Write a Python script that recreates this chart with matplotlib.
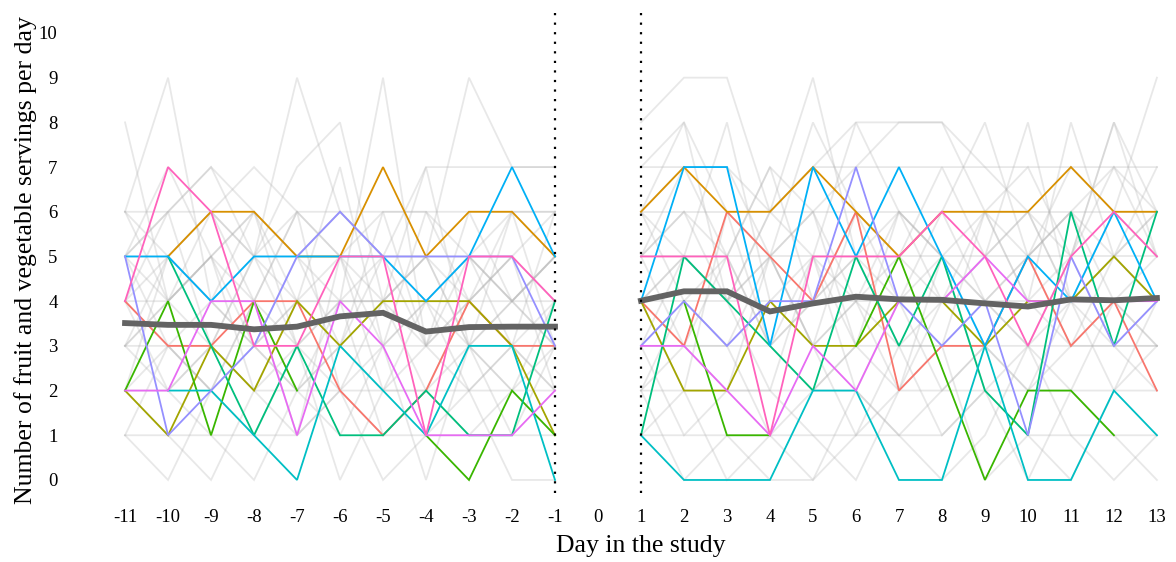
import numpy as np
import matplotlib
matplotlib.use('Agg')
import matplotlib.pyplot as plt

nan = float('nan')
# nan = gap in the line, None = day not shown but the line runs through it

pre_days = list(range(-11, 0))
post_days = list(range(1, 14))
xticks = list(range(-11, 14))
yticks = list(range(0, 11))

# highlighted participants (ggplot hue order)
hl_colors = ['#F8766D', '#D89000', '#A3A500', '#39B600', '#00BF7D',
             '#00BFC4', '#00B0F6', '#9590FF', '#E76BF3', '#FF62BC']
hl_pre = [
    [4, 3, 3, 4, 4, 2, 1, 2, 4, 3, 3],
    [nan, 5, 6, 6, 5, 5, 7, 5, 6, 6, 5],
    [2, 1, 3, 2, 4, 3, 4, 4, 4, 3, 1],
    [2, 4, 1, 4, 2, nan, nan, 1, 0, 2, 1],
    [nan, 5, 3, 1, 3, 1, 1, 2, 1, 1, 4],
    [nan, 2, 2, 1, 0, 3, 2, 1, 3, 3, 0],
    [5, 5, 4, 5, 5, 5, 5, 4, 5, 7, 5],
    [5, 1, 2, 3, 5, 6, 5, 5, 5, 5, 3],
    [2, 2, 4, 4, 1, 4, 3, 1, 1, 1, 2],
    [4, 7, 6, 3, 3, 5, 5, 1, 5, 5, 4],
]
hl_post = [
    [4, 3, 6, 5, 4, 6, 2, 3, 3, 5, 3, 4, 2],
    [6, 7, 6, 6, 7, 6, 5, 6, 6, 6, 7, 6, 6],
    [4, 2, 2, 4, 3, 3, 4, 4, 3, 4, 4, 5, 4],
    [nan, 4, 1, 1, nan, 3, 5, None, 0, 2, 2, 1, nan],
    [1, 5, 4, 3, 2, 5, 3, 5, 2, 1, 6, 3, 6],
    [1, 0, 0, 0, 2, 2, 0, 0, 3, 0, 0, 2, 1],
    [4, 7, 7, 3, 7, 5, 7, 5, 3, 5, 4, 6, 4],
    [3, 4, 3, 4, 4, 7, 4, 3, 4, 1, 5, 3, 4],
    [3, 3, 2, 1, 3, 2, 4, 4, 5, 4, 4, 4, 4],
    [5, 5, 5, 1, 5, 5, 5, 6, 5, 3, 5, 6, 5],
]

# everyone else, in light grey
gray_pre = [
    [8, 4, 5, 3, 4, 5, 3, 4, 5, 4, 3],
    [6, 9, 4, 5, 6, 5, 4, 5, 3, 4, 5],
    [5, 6, 7, 5, 9, 6, 5, 4, 5, 6, 6],
    [4, 5, 6, 5, 7, 8, 4, 5, 4, 5, 6],
    [3, 4, 5, 6, 4, 4, 9, 3, 5, 4, 5],
    [6, 5, 4, 6, 5, 6, 5, 5, 9, 7, 7],
    [5, 6, 7, 6, 5, 6, 5, 7, 7, 7, 7],
    [1, 0, 2, 1, 3, 0, 2, 3, 2, 0, 0],
    [2, 1, 0, 2, 1, 2, 0, 1, 2, 3, 2],
    [3, 2, 1, 0, 2, 1, 3, 0, 3, 2, 1],
    [1, 3, 2, 3, 2, 3, 2, 2, 1, 2, 3],
    [4, 4, 3, 3, 4, 4, 4, 3, 4, 4, 4],
    [6, 6, 6, 7, 6, 6, 6, 6, 6, 6, 6],
    [5, 5, 6, 5, 5, 4, 5, 5, 5, 4, 5],
    [4, 3, 4, 4, 3, 4, 4, 4, 4, 3, 4],
    [3, 3, 3, 2, 3, 3, 3, 3, 3, 3, 3],
    [2, 2, 3, 2, 2, 2, 2, 2, 2, 2, 2],
    [1, 1, 1, 1, 1, 2, 1, 1, 1, 1, 1],
    [5, 4, 6, 4, 6, 5, 6, 6, 4, 6, 5],
    [3, 5, 4, 3, 5, 3, 4, 2, 4, 5, 4],
    [4, 2, 3, 5, 3, 2, 3, 4, 2, 3, 2],
    [2, 3, 2, 4, 2, 4, 1, 2, 3, 1, 3],
    [6, 4, 5, 2, 4, 3, 5, 3, 6, 4, 5],
    [5, 3, 2, 4, 1, 5, 2, 4, 3, 2, 4],
    [3, 4, 5, 4, 6, 2, 4, 5, 3, 6, 3],
    [4, 6, 3, 5, 4, 7, 3, 6, 5, 3, 6],
    [2, 5, 4, 3, 2, 3, 6, 3, 4, 5, 2],
    [5, 7, 5, 6, 3, 4, 4, 7, 3, 4, 3],
]
gray_post = [
    [6, 5, 4, 5, 3, 6, 4, 5, 6, 4, 3, 5, 4],
    [8, 9, 9, 6, 5, 4, 6, 5, 4, 5, 6, 5, 4],
    [5, 6, 4, 6, 9, 5, 6, 4, 5, 6, 4, 5, 6],
    [7, 8, 6, 5, 8, 6, 5, 4, 6, 5, 7, 6, 5],
    [4, 5, 8, 4, 5, 8, 6, 5, 4, 5, 6, 4, 5],
    [6, 7, 7, 5, 6, 7, 8, 8, 6, 7, 5, 8, 6],
    [7, 7, 7, 6, 7, 7, 7, 7, 7, 7, 7, 7, 7],
    [2, 0, 1, 0, 0, 2, 1, 0, 1, 3, 1, 0, 1],
    [1, 2, 0, 1, 0, 1, 3, 1, 2, 0, 2, 1, 0],
    [3, 1, 2, 2, 1, 0, 2, 3, 0, 1, 0, 2, 3],
    [2, 3, 3, 1, 2, 3, 2, 2, 3, 2, 3, 3, 2],
    [4, 4, 4, 4, 4, 4, 4, 4, 4, 4, 4, 4, 4],
    [6, 6, 6, 6, 6, 6, 6, 6, 6, 6, 6, 6, 6],
    [5, 5, 5, 5, 5, 5, 5, 5, 5, 5, 5, 5, 5],
    [3, 4, 3, 5, 3, 4, 3, 3, 4, 3, 4, 3, 3],
    [3, 3, 3, 3, 2, 3, 3, 3, 3, 3, 3, 3, 3],
    [2, 2, 2, 2, 2, 2, 1, 2, 2, 2, 2, 2, 2],
    [1, 1, 1, 1, 1, 1, 1, 1, 2, 1, 1, 1, 1],
    [5, 6, 5, 7, 6, 4, 5, 6, 8, 5, 6, 7, 5],
    [4, 3, 5, 3, 4, 5, 3, 4, 5, 8, 4, 5, 6],
    [3, 5, 4, 2, 5, 3, 4, 2, 3, 4, 5, 3, 4],
    [2, 4, 3, 4, 3, 1, 2, 5, 2, 3, 2, 4, 3],
    [6, 4, 5, 3, 4, 5, 4, 3, 6, 4, 8, 5, 7],
    [5, 3, 2, 5, 3, 4, 2, 4, 3, 2, 4, 2, 4],
    [4, 2, 6, 3, 5, 2, 4, 6, 4, 3, 5, 8, 5],
    [5, 7, 5, 7, 4, 6, 5, 7, 5, 6, 4, 6, 9],
    [4, 5, 4, 5, 6, 3, 6, 5, 3, 5, 3, 4, 3],
    [6, 8, 4, 6, 7, 8, 8, 8, 7, 6, 5, 7, 6],
]

mean_pre = [3.51, 3.47, 3.47, 3.37, 3.43, 3.66, 3.74, 3.32, 3.42, 3.43, 3.43]
mean_post = [4.01, 4.22, 4.22, 3.77, 3.95, 4.10, 4.04, 4.03, 3.95, 3.88, 4.04, 4.02, 4.07]

plt.rcParams['font.family'] = ['Liberation Serif', 'DejaVu Serif']
plt.rcParams['axes.unicode_minus'] = False

fig = plt.figure(figsize=(11.76, 5.62), dpi=100)
ax = fig.add_axes([0.0844, 0.1221, 0.914, 0.859])


def draw(days, vals, **kw):
    pts = [(d, v) for d, v in zip(days, vals) if v is not None]
    xs, ys = zip(*pts)
    ax.plot(xs, ys, solid_joinstyle='miter', **kw)


for pre, post in zip(gray_pre, gray_post):
    draw(pre_days, pre, color='#b4b4b4', alpha=0.3, lw=1.3)
    draw(post_days, post, color='#b4b4b4', alpha=0.3, lw=1.3)

for col, pre, post in zip(hl_colors, hl_pre, hl_post):
    draw(pre_days, pre, color=col, lw=1.3)
    draw(post_days, post, color=col, lw=1.3)

draw(pre_days, mean_pre, color='#636363', lw=4.2)
draw(post_days, mean_post, color='#636363', lw=4.2)

for xv in (-1, 1):
    ax.axvline(xv, color='black', lw=1.6, linestyle=(0, (1, 3.3)), zorder=5)

ax.set_xlim(-11.6, 13.4)
ax.set_ylim(-0.3, 10.5)
ax.set_xticks(xticks)
ax.set_yticks(yticks)
ax.tick_params(length=0, labelsize=13.5)
ax.tick_params(axis='y', pad=30)
ax.tick_params(axis='x', pad=11)
for s in ax.spines.values():
    s.set_visible(False)
ax.set_xlabel('Day in the study', fontsize=18.5)
ax.set_ylabel('Number of fruit and vegetable servings per day', fontsize=18.5)
ax.xaxis.set_label_coords(0.504, -0.086)
ax.yaxis.set_label_coords(-0.058, 0.483)

fig.savefig('out.png', dpi=100)
